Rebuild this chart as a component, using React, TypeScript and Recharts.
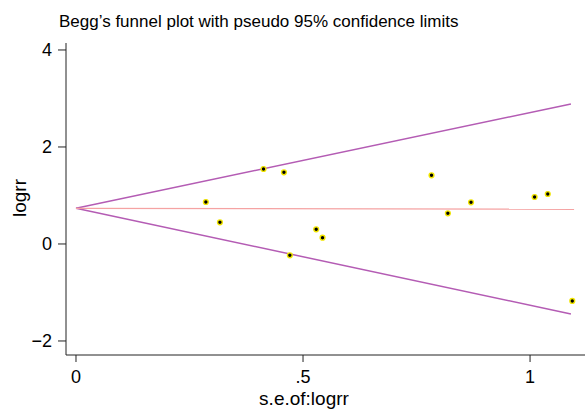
import React from "react";
import { ScatterChart, Scatter, XAxis, YAxis } from "recharts";

// study-level estimates: standard error and log relative risk
const SE = [0.286, 0.317, 0.413, 0.458, 0.471, 0.529, 0.543, 0.783, 0.819, 0.87, 1.01, 1.039, 1.093];
const LOGRR = [0.866, 0.447, 1.546, 1.478, -0.233, 0.303, 0.13, 1.416, 0.633, 0.859, 0.969, 1.031, -1.175];

// pseudo 95% limits and pooled estimate line
const LIMIT_SE = [0, 1.09];
const UPPER = [0.736, 2.887];
const LOWER = [0.736, -1.443];
const POOLED_SE = [0, 1.097];
const POOLED = [0.736, 0.716];

const X_TICKS = [0, 0.5, 1];
const Y_TICKS = [-2, 0, 2, 4];

const FONT = "'Liberation Sans', Arial, Helvetica, sans-serif";
const PURPLE = "#b45cb4";
const PINK = "#f5a3a3";

const studies = SE.map((se, i) => ({ se, logrr: LOGRR[i] }));
const toLine = (xs: number[], ys: number[]) => xs.map((se, i) => ({ se, logrr: ys[i] }));

const Dot = (props: any) => (
  <circle cx={props.cx} cy={props.cy} r={2.4} fill="#000" stroke="#f2e600" strokeWidth={1.4} />
);
const NoDot = () => <g />;

const fmtX = (v: number) => (v === 0 ? "0" : v === 0.5 ? ".5" : String(v));
const fmtY = (v: number) => (v < 0 ? `\u2212${Math.abs(v)}` : String(v));

export default function App() {
  const tickStyle = { fill: "#000", fontSize: 18, fontFamily: FONT };
  return (
    <div style={{ position: "absolute", left: 0, top: 0, width: 585, height: 412, background: "#fff" }}>
      <ScatterChart width={585} height={412} margin={{ top: 43, right: 0, bottom: 0, left: 0 }}>
        <XAxis
          type="number"
          dataKey="se"
          domain={[-0.022, 1.121]}
          allowDataOverflow
          ticks={X_TICKS}
          tickFormatter={fmtX}
          height={57}
          tickSize={7}
          tickMargin={8}
          tick={tickStyle}
          axisLine={{ stroke: "#222" }}
          tickLine={{ stroke: "#222" }}
        />
        <YAxis
          type="number"
          dataKey="logrr"
          domain={[-2.289, 4.144]}
          allowDataOverflow
          ticks={Y_TICKS}
          tickFormatter={fmtY}
          width={66}
          tickSize={8}
          tickMargin={6}
          tick={tickStyle}
          axisLine={{ stroke: "#222" }}
          tickLine={{ stroke: "#222" }}
        />
        <Scatter data={toLine(LIMIT_SE, UPPER)} line={{ stroke: PURPLE, strokeWidth: 1.5 }} shape={NoDot} isAnimationActive={false} />
        <Scatter data={toLine(LIMIT_SE, LOWER)} line={{ stroke: PURPLE, strokeWidth: 1.5 }} shape={NoDot} isAnimationActive={false} />
        <Scatter data={toLine(POOLED_SE, POOLED)} line={{ stroke: PINK, strokeWidth: 1.3 }} shape={NoDot} isAnimationActive={false} />
        <Scatter data={studies} shape={Dot} isAnimationActive={false} />
      </ScatterChart>
      <svg width={585} height={412} style={{ position: "absolute", left: 0, top: 0, pointerEvents: "none" }}>
        <text x={59} y={27} fontSize={17} fontFamily={FONT} fill="#000">
          Begg’s funnel plot with pseudo 95% confidence limits
        </text>
        <text x={304} y={405} fontSize={19} fontFamily={FONT} fill="#000" textAnchor="middle">
          s.e.of:logrr
        </text>
        <text
          x={19}
          y={198}
          fontSize={19}
          fontFamily={FONT}
          fill="#000"
          textAnchor="middle"
          dominantBaseline="central"
          transform="rotate(-90, 19, 198)"
        >
          logrr
        </text>
      </svg>
    </div>
  );
}
